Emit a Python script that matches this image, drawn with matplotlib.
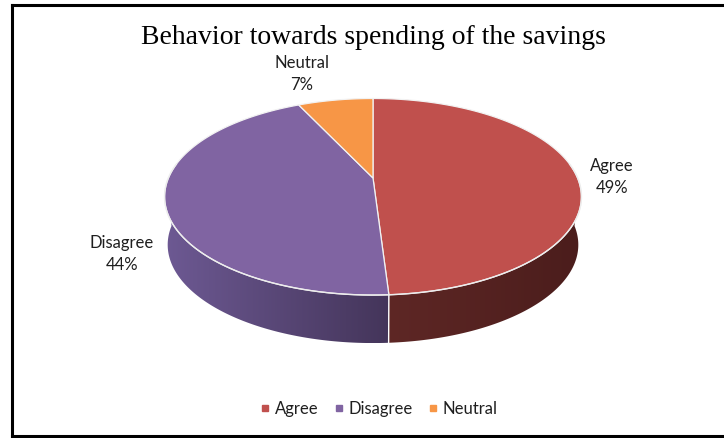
import numpy as np
import matplotlib
matplotlib.use("Agg")
import matplotlib.pyplot as plt
from matplotlib.patches import Polygon
from matplotlib.lines import Line2D
from matplotlib.colors import to_rgb

# ---- data ----
categories = ["Agree", "Disagree", "Neutral"]
shares = [49, 44, 7]
top_colors = ["#C0504D", "#8064A2", "#F79646"]
wall_light = ["#5E2725", "#6D5993", "#B06A30"]
wall_dark = ["#4B1D1C", "#44355A", "#8A5024"]
title = "Behavior towards spending of the savings"

# ---- pie geometry (pixel space) ----
CX, CY = 373.0, 178.0      # projected centre of the top face
A, B = 204.6, 94.7         # horizontal / vertical radii
K = 0.191                  # perspective foreshortening
H = 48.0                   # thickness of the disc
Q = 0.985                  # shrink of the bottom face

W, HGT = 724, 438
fig = plt.figure(figsize=(W / 100, HGT / 100), dpi=100)
ax = fig.add_axes([0, 0, 1, 1])
ax.set_xlim(0, W)
ax.set_ylim(HGT, 0)
ax.axis("off")


def project(phi, bottom=False):
    """phi: angle clockwise from 12 o'clock (radians)."""
    X, Y = np.sin(phi), np.cos(phi)
    d = 1 + K * Y
    if bottom:
        return CX + A * Q * X / d, CY - B * Y / d + H
    return CX + A * X / d, CY - B * Y / d


fracs = np.array(shares, dtype=float) / np.sum(shares)
starts = np.concatenate([[0], np.cumsum(fracs)[:-1]]) * 2 * np.pi
ends = np.cumsum(fracs) * 2 * np.pi


def wall_gradient(poly, c0, c1):
    xy = poly.get_xy()
    xs, ys = xy[:, 0], xy[:, 1]
    n = 256
    c0, c1 = np.array(to_rgb(c0)), np.array(to_rgb(c1))
    tt = np.linspace(0, 1, n)
    img = (c0[None, :] * (1 - tt[:, None]) + c1[None, :] * tt[:, None])[None, :, :]
    im = ax.imshow(img, extent=(xs.min(), xs.max(), ys.max(), ys.min()),
                   aspect="auto", interpolation="bilinear", zorder=1)
    im.set_clip_path(poly)


# side walls (front part only is visible; top faces cover the rest)
for i in range(len(shares)):
    lo, hi = max(starts[i], np.pi / 2), min(ends[i], 3 * np.pi / 2)
    if hi <= lo:
        continue
    ph = np.linspace(lo, hi, 200)
    tx, ty = project(ph)
    bx, by = project(ph[::-1], bottom=True)
    pts = np.column_stack([np.concatenate([tx, bx]), np.concatenate([ty, by])])
    poly = Polygon(pts, closed=True, facecolor="none", edgecolor="none")
    ax.add_patch(poly)
    wall_gradient(poly, wall_light[i], wall_dark[i])

# white seam on the wall between Agree and Disagree
sx, sy = project(ends[0])
bx, by = project(ends[0], bottom=True)
ax.plot([sx, bx], [sy, by], color="white", lw=1.0, zorder=3)

# top faces
for i in range(len(shares)):
    ph = np.linspace(starts[i], ends[i], 200)
    tx, ty = project(ph)
    pts = np.column_stack([np.concatenate([[CX], tx]), np.concatenate([[CY], ty])])
    ax.add_patch(Polygon(pts, closed=True, facecolor=top_colors[i],
                         edgecolor="#F2F2F2", lw=0.9, zorder=4))

# light rim along the front edge of the top face
ph = np.linspace(np.pi / 2 - 0.15, 3 * np.pi / 2 + 0.15, 300)
rx, ry = project(ph)
ax.plot(rx, ry, color="#EDEDED", lw=1.0, zorder=5)

# data labels
label_pos = [(612, 177), (122, 254), (302, 74)]
for (lx, ly), name, v in zip(label_pos, categories, shares):
    ax.text(lx, ly, f"{name}\n{v}%", ha="center", va="center", fontsize=12,
            family="Lato", color="#1F1F1F", linespacing=1.4, zorder=6)

# title
ax.text(373, 37, title, ha="center", va="center", fontsize=20,
        family="Liberation Serif", color="black", zorder=6)

# legend
handles = [Line2D([], [], marker="s", ls="", markersize=5, color=c) for c in top_colors]
ax.legend(handles, categories, loc="center", bbox_to_anchor=(378 / W, 1 - 409 / HGT),
          ncol=3, frameon=False, prop={"family": "Lato", "size": 12},
          handletextpad=0.2, columnspacing=0.8, handlelength=0.8,
          labelcolor="#1F1F1F")

# outer frame
frame_kw = dict(color="black", lw=2.2, solid_capstyle="projecting", zorder=10)
ax.plot([11.5, 11.5], [4.5, 436], **frame_kw)
ax.plot([11.5, W + 5], [4.5, 4.5], **frame_kw)
ax.plot([11.5, W + 5], [436, 436], **frame_kw)

fig.savefig("out.png", dpi=100)
